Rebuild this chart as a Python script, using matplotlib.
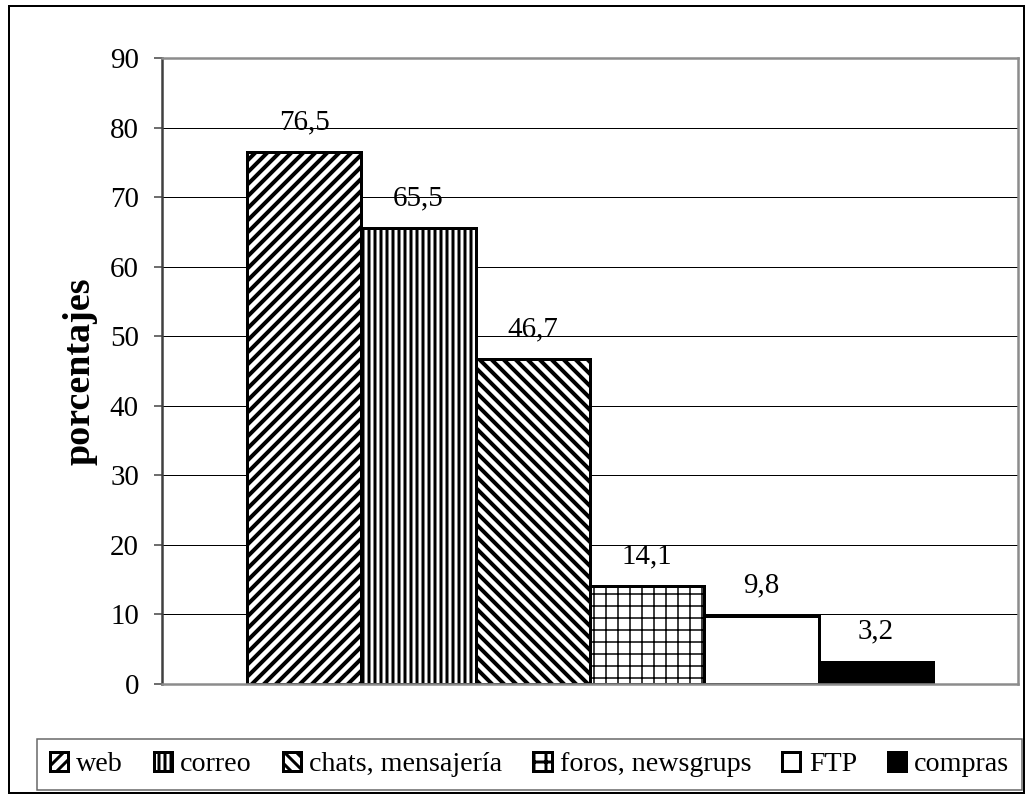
import matplotlib.pyplot as plt
from matplotlib.patches import Rectangle

categorias = ["web", "correo", "chats, mensajería", "foros, newsgrups", "FTP", "compras"]
valores = [76.5, 65.5, 46.7, 14.1, 9.8, 3.2]
etiquetas = ["76,5", "65,5", "46,7", "14,1", "9,8", "3,2"]
tramas = ["//", "||", "\\\\", "+", "", ""]
grosor_trama = [4.0, 3.0, 4.0, 1.5, 1.0, 1.0]
rellenos = ["white", "white", "white", "white", "white", "black"]
y_ticks = [0, 10, 20, 30, 40, 50, 60, 70, 80, 90]

plt.rcParams["font.family"] = ["Liberation Serif", "DejaVu Serif"]

W, H = 1032, 796
fig = plt.figure(figsize=(W / 72, H / 72), dpi=72)
ax = fig.add_axes([162 / W, 1 - 684 / H, (1018 - 162) / W, (684 - 58) / H])

ax.set_axisbelow(True)
ax.yaxis.grid(True, color="black", linewidth=1)

handles = []
for i, cat in enumerate(categorias):
    with plt.rc_context({"hatch.linewidth": grosor_trama[i]}):
        b = ax.bar(i, valores[i], width=1.0, color=rellenos[i], edgecolor="black",
                   linewidth=3, hatch=tramas[i], label=cat)
    handles.append(b)
    ax.annotate(etiquetas[i], (i, valores[i]), xytext=(0, 23), textcoords="offset points",
                ha="center", va="baseline", fontsize=29)

ax.set_xlim(-1.244, 6.244)
ax.set_ylim(0, 90)
ax.set_yticks(y_ticks)
ax.set_xticks([])
ax.tick_params(axis="y", labelsize=29, length=8, width=1.5, color="#404040", pad=15)

for side in ["top", "right", "bottom"]:
    ax.spines[side].set_color("#8c8c8c")
    ax.spines[side].set_linewidth(2.5)
ax.spines["left"].set_color("#404040")
ax.spines["left"].set_linewidth(2.5)

ax.set_ylabel("porcentajes", fontsize=38, fontweight="bold", labelpad=12)

with plt.rc_context({"hatch.linewidth": 3.0}):
    leg = fig.legend(handles=handles, labels=categorias, loc="center",
                     bbox_to_anchor=(37 / W, 1 - 792 / H, (1022 - 37) / W, (792 - 737) / H),
                     ncol=6, mode="expand", prop={"family": "Liberation Serif", "size": 28},
                     frameon=True, fancybox=False, edgecolor="#404040",
                     borderaxespad=0, handlelength=0.65, handleheight=0.65,
                     handletextpad=0.3, columnspacing=1.0, borderpad=0.45)
leg.get_frame().set_linewidth(1.5)
for p in leg.get_patches():
    p.set_linewidth(3)

fig.patches.append(Rectangle((9 / W, 3 / H), (1024 - 9) / W, (790 - 3) / H,
                             transform=fig.transFigure, fill=False,
                             edgecolor="black", linewidth=2))

fig.savefig("out.png", dpi=72)
